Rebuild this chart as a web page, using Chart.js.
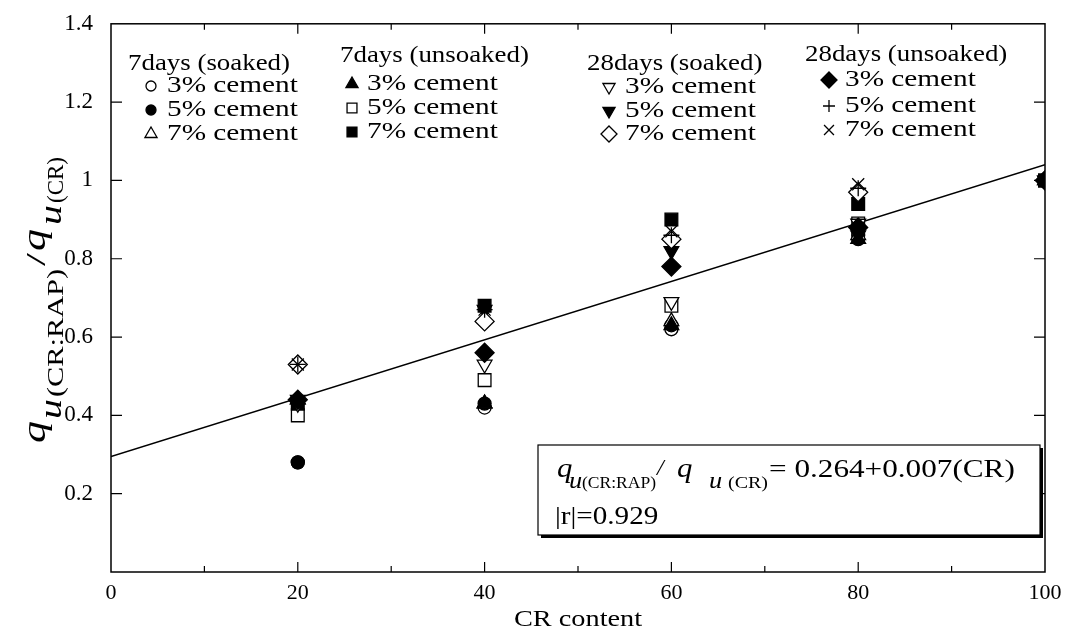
<!DOCTYPE html>
<html><head><meta charset="utf-8">
<script src="https://cdn.jsdelivr.net/npm/chart.js@4.4.1/dist/chart.umd.min.js"></script>
<style>html,body{margin:0;padding:0;background:#fff;}canvas{display:block;}</style>
</head><body>
<canvas id="c" width="1073" height="635"></canvas>
<script>
// ---------- data ----------
const crContent = [20, 40, 60, 80, 100];
const soaked7d_3 = [0.28, 0.42, 0.62, 0.86, 1.0];
const soaked7d_5 = [0.28, 0.43, 0.63, 0.85, 1.0];
const soaked7d_7 = [0.44, 0.43, 0.64, 0.86, 1.0];
const unsoaked7d_3 = [0.44, 0.43, 0.63, 0.85, 1.0];
const unsoaked7d_5 = [0.40, 0.49, 0.68, 0.89, 1.0];
const unsoaked7d_7 = [0.43, 0.68, 0.90, 0.94, 1.0];
const soaked28d_3 = [0.43, 0.53, 0.69, 0.89, 1.0];
const soaked28d_5 = [0.44, 0.67, 0.82, 0.86, 1.0];
const soaked28d_7 = [0.53, 0.64, 0.85, 0.97, 1.0];
const unsoaked28d_3 = [0.44, 0.56, 0.78, 0.88, 1.0];
const unsoaked28d_5 = [0.53, 0.67, 0.86, 0.98, 1.0];
const unsoaked28d_7 = [0.53, 0.67, 0.87, 0.99, 1.0];
const fitX = [0, 100];
const fitY = [0.295, 1.04];
const xTickValues = [0, 20, 40, 60, 80, 100];
const xMinorValues = [10, 30, 50, 70, 90];
const yTickValues = [0, 0.2, 0.4, 0.6, 0.8, 1.0, 1.2, 1.4];
const groupTitles = ['7days (soaked)', '7days (unsoaked)', '28days (soaked)', '28days (unsoaked)'];
const cementLabels = ['3% cement', '5% cement', '7% cement'];
const eqText = '= 0.264+0.007(CR)';
const rText = '|r|=0.929';

// ---------- styles ----------
const FONT = "'Liberation Serif', 'Times New Roman', serif";
const series = [
  {g:0, i:0, data:soaked7d_3, shape:'circle', rot:0, fill:false, r:6.5, lr:5},
  {g:0, i:1, data:soaked7d_5, shape:'circle', rot:0, fill:true, r:6.5, lr:5},
  {g:0, i:2, data:soaked7d_7, shape:'triangle', rot:0, fill:false, r:8.5, lr:7},
  {g:1, i:0, data:unsoaked7d_3, shape:'triangle', rot:0, fill:true, r:8.5, lr:7},
  {g:1, i:1, data:unsoaked7d_5, shape:'rect', rot:0, fill:false, r:9, lr:7},
  {g:1, i:2, data:unsoaked7d_7, shape:'rect', rot:0, fill:true, r:9, lr:7},
  {g:2, i:0, data:soaked28d_3, shape:'triangle', rot:180, fill:false, r:8.5, lr:7},
  {g:2, i:1, data:soaked28d_5, shape:'triangle', rot:180, fill:true, r:8.5, lr:7},
  {g:2, i:2, data:soaked28d_7, shape:'rectRot', rot:0, fill:false, r:9.5, lr:8},
  {g:3, i:0, data:unsoaked28d_3, shape:'rectRot', rot:0, fill:true, r:9.5, lr:8},
  {g:3, i:1, data:unsoaked28d_5, shape:'cross', rot:0, fill:false, r:8, lr:6},
  {g:3, i:2, data:unsoaked28d_7, shape:'crossRot', rot:0, fill:false, r:8.5, lr:7}
];
const legendLayout = [
  {tx:128, ty:64, mx:151, lx:167, rows:[86, 110, 134]},
  {tx:340, ty:56, mx:352, lx:367, rows:[84, 108, 132]},
  {tx:587, ty:64, mx:609, lx:625, rows:[87, 111, 134]},
  {tx:805, ty:55, mx:829, lx:845, rows:[80, 106, 130]}
];

function drawMarker(ctx, shape, x, y, r, rotDeg, fill) {
  ctx.save();
  ctx.lineWidth = 1.3; ctx.strokeStyle = '#000'; ctx.fillStyle = fill ? '#000' : '#fff';
  ctx.beginPath();
  let rad = rotDeg * Math.PI / 180;
  if (shape === 'circle') { ctx.arc(x, y, r, 0, Math.PI * 2); }
  else if (shape === 'triangle') {
    for (let k = 0; k < 3; k++) { const a = rad + k * 2 * Math.PI / 3; const px = x + Math.sin(a) * r, py = y - Math.cos(a) * r; k ? ctx.lineTo(px, py) : ctx.moveTo(px, py); }
    ctx.closePath();
  } else if (shape === 'rect') { const s = Math.SQRT1_2 * r; ctx.rect(x - s, y - s, 2 * s, 2 * s); }
  else if (shape === 'rectRot') { ctx.moveTo(x, y - r); ctx.lineTo(x + r, y); ctx.lineTo(x, y + r); ctx.lineTo(x - r, y); ctx.closePath(); }
  if (shape === 'cross') { ctx.moveTo(x - r, y); ctx.lineTo(x + r, y); ctx.moveTo(x, y - r); ctx.lineTo(x, y + r); ctx.stroke(); }
  else if (shape === 'crossRot') { const d = Math.SQRT1_2 * r; ctx.moveTo(x - d, y - d); ctx.lineTo(x + d, y + d); ctx.moveTo(x - d, y + d); ctx.lineTo(x + d, y - d); ctx.stroke(); }
  else { ctx.fill(); ctx.stroke(); }
  ctx.restore();
}
function txt(ctx, s, x, y, font, sx, baseline) {
  ctx.save();
  ctx.font = font; ctx.fillStyle = '#000'; ctx.textAlign = 'left'; ctx.textBaseline = baseline || 'alphabetic';
  ctx.translate(x, y); ctx.scale(sx, 1); ctx.fillText(s, 0, 0);
  const w = ctx.measureText(s).width * sx; ctx.restore(); return w;
}
function txtFit(ctx, s, x, y, font, width, baseline) {
  ctx.save(); ctx.font = font; const w = ctx.measureText(s).width; ctx.restore();
  return txt(ctx, s, x, y, font, width / w, baseline);
}

const decor = {
  id: 'decor',
  afterDraw(chart) {
    const ctx = chart.ctx, a = chart.chartArea, xs = chart.scales.x, ys = chart.scales.y;
    ctx.save();
    // frame
    ctx.strokeStyle = '#000'; ctx.lineWidth = 1.5;
    ctx.strokeRect(a.left, a.top, a.right - a.left, a.bottom - a.top);
    // inward ticks
    ctx.lineWidth = 1.2; ctx.beginPath();
    const xt = xTickValues.map(v => [v, 10]).concat(xMinorValues.map(v => [v, 6]));
    xt.forEach(([v, L]) => { const p = xs.getPixelForValue(v); if (p <= a.left + 1 || p >= a.right - 1) return;
      ctx.moveTo(p, a.bottom); ctx.lineTo(p, a.bottom - L); ctx.moveTo(p, a.top); ctx.lineTo(p, a.top + L); });
    yTickValues.forEach(v => { const p = ys.getPixelForValue(v); if (p >= a.bottom - 1 || p <= a.top + 1) return;
      ctx.moveTo(a.left, p); ctx.lineTo(a.left + 11, p); ctx.moveTo(a.right, p); ctx.lineTo(a.right - 11, p); });
    ctx.stroke();
    // x title
    ctx.font = '24px ' + FONT;
    const tw = ctx.measureText('CR content').width * 1.18;
    txt(ctx, 'CR content', (a.left + a.right) / 2 - tw / 2, 620, '24px ' + FONT, 1.18, 'middle');
    // y title (rotated): x' = -pageY, y' = pageX
    ctx.save();
    ctx.rotate(-Math.PI / 2);
    const segs = [
      {s:'q', from:443, to:421, font:'italic 34px ' + FONT, bx:45},
      {s:'u', from:419, to:399, font:'italic 32px ' + FONT, bx:61},
      {s:'(CR:RAP)', from:397, to:269, font:'23px ' + FONT, bx:63},
      {s:'/', from:266, to:253, font:'28px ' + FONT, bx:45},
      {s:'q', from:251, to:229, font:'italic 34px ' + FONT, bx:45},
      {s:'u', from:225, to:205, font:'italic 32px ' + FONT, bx:61},
      {s:'(CR)', from:203, to:157, font:'23px ' + FONT, bx:63}
    ];
    segs.forEach(g => txtFit(ctx, g.s, -g.from, g.bx, g.font, g.from - g.to, 'alphabetic'));
    ctx.restore();
    // legend
    legendLayout.forEach((L, gi) => {
      txt(ctx, groupTitles[gi], L.tx, L.ty, '24px ' + FONT, 1.12, 'middle');
      series.filter(s => s.g === gi).forEach(s => {
        drawMarker(ctx, s.shape, L.mx, L.rows[s.i], s.lr, s.rot, s.fill);
        txt(ctx, cementLabels[s.i], L.lx, L.rows[s.i], '24px ' + FONT, 1.22, 'middle');
      });
    });
    // equation box
    const bx = 538, by = 445, bw = 502, bh = 90;
    ctx.fillStyle = '#000'; ctx.fillRect(bx + 3, by + 3, bw, bh);
    ctx.fillStyle = '#fff'; ctx.fillRect(bx, by, bw, bh);
    ctx.strokeStyle = '#000'; ctx.lineWidth = 1.2; ctx.strokeRect(bx, by, bw, bh);
    const base1 = 477, sub1 = 488;
    txt(ctx, 'q', 557, base1, 'italic 28px ' + FONT, 1.1);
    txt(ctx, 'u', 569, sub1, 'italic 24px ' + FONT, 1.1);
    txtFit(ctx, '(CR:RAP)', 582, sub1, '16px ' + FONT, 74);
    txt(ctx, '/', 657, base1 - 2, 'italic 24px ' + FONT, 1.0);
    txt(ctx, 'q', 677, base1, 'italic 28px ' + FONT, 1.1);
    txt(ctx, 'u', 709, sub1, 'italic 24px ' + FONT, 1.1);
    txtFit(ctx, '(CR)', 728, sub1, '16px ' + FONT, 40);
    txt(ctx, eqText, 769, base1, '26px ' + FONT, 1.2);
    txt(ctx, rText, 555, 524, '26px ' + FONT, 1.12);
    ctx.restore();
  }
};

const pts = vals => crContent.map((x, k) => ({x: x, y: vals[k]}));
const datasets = series.map((s, k) => ({
  label: groupTitles[s.g] + ' ' + cementLabels[s.i],
  data: pts(s.data),
  pointStyle: s.shape, pointRotation: s.rot, pointRadius: s.r,
  backgroundColor: s.fill ? '#000' : '#fff', borderColor: '#000',
  pointBorderWidth: 1.3, showLine: false, order: series.length - k
}));
datasets.push({
  type: 'line', label: 'fit', data: fitX.map((x, k) => ({x: x, y: fitY[k]})),
  borderColor: '#000', borderWidth: 1.5, pointRadius: 0, fill: false, order: 100
});

new Chart(document.getElementById('c'), {
  type: 'scatter',
  data: {datasets},
  options: {
    responsive: false, animation: false, devicePixelRatio: 1,
    layout: {padding: {top: 19, right: 1073 - 1045, bottom: 0, left: 0}},
    plugins: {legend: {display: false}, tooltip: {enabled: false}},
    scales: {
      x: {
        type: 'linear', min: 0, max: 100,
        afterBuildTicks: s => { s.ticks = xTickValues.map(v => ({value: v})); },
        grid: {display: false}, border: {display: false},
        ticks: {font: {family: FONT, size: 22}, color: '#000', padding: 0, maxRotation: 0, callback: v => String(v)},
        afterFit: s => { s.height = 63; }
      },
      y: {
        type: 'linear', min: 0, max: 1.4,
        afterBuildTicks: s => { s.ticks = yTickValues.map(v => ({value: v})); },
        grid: {display: false}, border: {display: false},
        ticks: {font: {family: FONT, size: 23}, color: '#000', padding: 10, callback: v => v === 0 ? '' : String(+Number(v).toFixed(1))},
        afterFit: s => { s.width = 111; }
      }
    }
  },
  plugins: [decor]
});
</script>
</body></html>
